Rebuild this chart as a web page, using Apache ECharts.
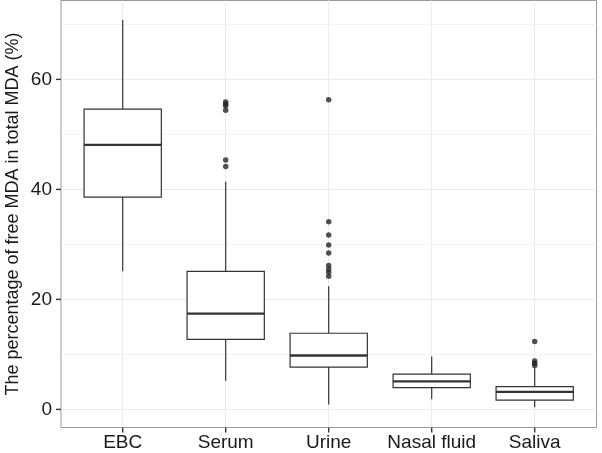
<!DOCTYPE html>
<html><head><meta charset="utf-8">
<script src="https://cdn.jsdelivr.net/npm/echarts@6/dist/echarts.min.js"></script>
<style>html,body{margin:0;padding:0;background:#fff}#c{width:602px;height:453px}</style>
</head><body><div id="c"></div>
<script>
// ---- data ----
const categories = ['EBC', 'Serum', 'Urine', 'Nasal fluid', 'Saliva'];
const whiskerLow  = [25.1, 5.2, 0.9, 1.85, 0.4];
const q1          = [38.6, 12.75, 7.7, 3.95, 1.7];
const median      = [48.1, 17.4, 9.8, 5.1, 3.2];
const q3          = [54.6, 25.1, 13.85, 6.4, 4.15];
const whiskerHigh = [70.8, 41.4, 22.4, 9.6, 7.6];
const ebcOutliers    = [];
const serumOutliers  = [55.9, 55.55, 55.2, 54.4, 45.35, 44.15];
const urineOutliers  = [56.3, 34.1, 31.7, 29.9, 28.45, 26.15, 25.5, 24.95, 24.2];
const nasalOutliers  = [];
const salivaOutliers = [12.35, 8.8, 8.4, 8.0];
const yTickLabels = [0, 20, 40, 60];
const yMinorLines = [10, 30, 50, 70];
const yTitle = 'The percentage of free MDA in total MDA (%)';

// ---- build ----
const FONT = "'Liberation Sans', Arial, Helvetica, sans-serif";
const boxData = categories.map((c, i) => [i, whiskerLow[i], q1[i], median[i], q3[i], whiskerHigh[i]]);
const outlierGroups = [ebcOutliers, serumOutliers, urineOutliers, nasalOutliers, salivaOutliers];
const outlierData = [];
outlierGroups.forEach((arr, i) => arr.forEach(v => outlierData.push([i, v])));
const Y_MIN = -3.29, Y_MAX = 74.35;

const PANEL = {left: 61, right: 5.5, top: 0.5, bottom: 25.5};
const BORDER = '#999';
const TICK = '#333';
const TICK_LEN = 5;
const off = {show: false};
const chart = echarts.init(document.getElementById('c'), null, {renderer: 'canvas'});
chart.setOption({
  animation: false,
  backgroundColor: '#fff',
  grid: [
    {left: PANEL.left, right: PANEL.right, top: PANEL.top, bottom: PANEL.bottom, show: true, borderColor: BORDER, borderWidth: 1, backgroundColor: 'transparent', outerBoundsMode: 'none'},
    {left: PANEL.left, right: PANEL.right, top: 24.4, bottom: 98.6, outerBoundsMode: 'none'},
    {left: PANEL.left, right: PANEL.right, top: 79.4, bottom: 43.6, outerBoundsMode: 'none'},
    {left: 122.7, right: 67.3, top: PANEL.top, bottom: PANEL.bottom, outerBoundsMode: 'none'}
  ],
  xAxis: [
    {gridIndex: 0, type: 'value', show: false},
    {gridIndex: 1, type: 'value', show: false},
    {gridIndex: 2, type: 'value', show: false, min: 0, max: 1},
    {gridIndex: 3, type: 'category', data: categories, boundaryGap: false, position: 'bottom',
     axisLine: {show: false, onZero: false},
     axisTick: off,
     axisLabel: {interval: 0, margin: 6, fontSize: 19, color: '#1a1a1a', fontFamily: FONT},
     splitLine: {show: true, lineStyle: {color: '#ebebeb', width: 1}}}
  ],
  yAxis: [
    {gridIndex: 0, type: 'value', min: 0, max: 1,
     axisLine: {show: false, onZero: false}, axisTick: off, axisLabel: off, splitLine: off,
     name: yTitle, nameLocation: 'middle', nameGap: 39,
     nameTextStyle: {fontSize: 18, color: '#1a1a1a', fontFamily: FONT}},
    {gridIndex: 1, type: 'value', min: yMinorLines[0], max: yMinorLines[yMinorLines.length - 1], interval: 20,
     axisLine: {show: false, onZero: false}, axisTick: off, axisLabel: off,
     splitLine: {show: true, lineStyle: {color: '#f3f3f3', width: 1}}},
    {gridIndex: 2, type: 'value', min: yTickLabels[0], max: yTickLabels[yTickLabels.length - 1], interval: 20, position: 'left',
     axisLine: {show: false, onZero: false},
     axisTick: off,
     axisLabel: {margin: 9, fontSize: 19, color: '#1a1a1a', fontFamily: FONT},
     splitLine: {show: true, lineStyle: {color: '#ebebeb', width: 1}}},
    {gridIndex: 3, type: 'value', min: Y_MIN, max: Y_MAX, show: false}
  ],
  series: [
    {
      type: 'custom', xAxisIndex: 3, yAxisIndex: 3, z: 3,
      data: boxData,
      encode: {x: 0, y: [1, 2, 3, 4, 5]},
      renderItem: function (params, api) {
        const i = api.value(0);
        const lo = api.coord([i, api.value(1)]);
        const a = api.coord([i, api.value(2)]);
        const m = api.coord([i, api.value(3)]);
        const b = api.coord([i, api.value(4)]);
        const hi = api.coord([i, api.value(5)]);
        const step = api.coord([1, 0])[0] - api.coord([0, 0])[0];
        const hw = step * 0.375;
        const x = lo[0];
        const st = {stroke: '#333', lineWidth: 1.2, fill: null};
        return {type: 'group', children: [
          {type: 'line', shape: {x1: x, y1: hi[1], x2: x, y2: b[1]}, style: st},
          {type: 'line', shape: {x1: x, y1: a[1], x2: x, y2: lo[1]}, style: st},
          {type: 'rect', shape: {x: x - hw, y: b[1], width: 2 * hw, height: a[1] - b[1]}, style: {stroke: '#333', lineWidth: 1.2, fill: '#fff'}},
          {type: 'line', shape: {x1: x - hw, y1: m[1], x2: x + hw, y2: m[1]}, style: {stroke: '#333', lineWidth: 2.3}}
        ]};
      }
    },
    {
      type: 'scatter', xAxisIndex: 3, yAxisIndex: 3, z: 4,
      data: outlierData, symbol: 'circle', symbolSize: 5.5,
      itemStyle: {color: '#262626'}
    },
    // x-axis tick marks at each category, below the panel
    {
      type: 'custom', xAxisIndex: 3, yAxisIndex: 3, z: 10, clip: false, silent: true,
      data: categories.map((c, i) => [i, Y_MIN]),
      encode: {x: 0, y: 1},
      renderItem: function (params, api) {
        const p = api.coord([api.value(0), api.value(1)]);
        return {type: 'line', shape: {x1: p[0], y1: p[1], x2: p[0], y2: p[1] + TICK_LEN}, style: {stroke: TICK, lineWidth: 1.4}};
      }
    },
    // y-axis tick marks at each labelled value, left of the panel
    {
      type: 'custom', xAxisIndex: 2, yAxisIndex: 2, z: 10, clip: false, silent: true,
      data: yTickLabels.map(v => [0, v]),
      encode: {x: 0, y: 1},
      renderItem: function (params, api) {
        const p = api.coord([api.value(0), api.value(1)]);
        return {type: 'line', shape: {x1: p[0] - TICK_LEN, y1: p[1], x2: p[0], y2: p[1]}, style: {stroke: TICK, lineWidth: 1.4}};
      }
    }
  ]
});
</script>
</body></html>
